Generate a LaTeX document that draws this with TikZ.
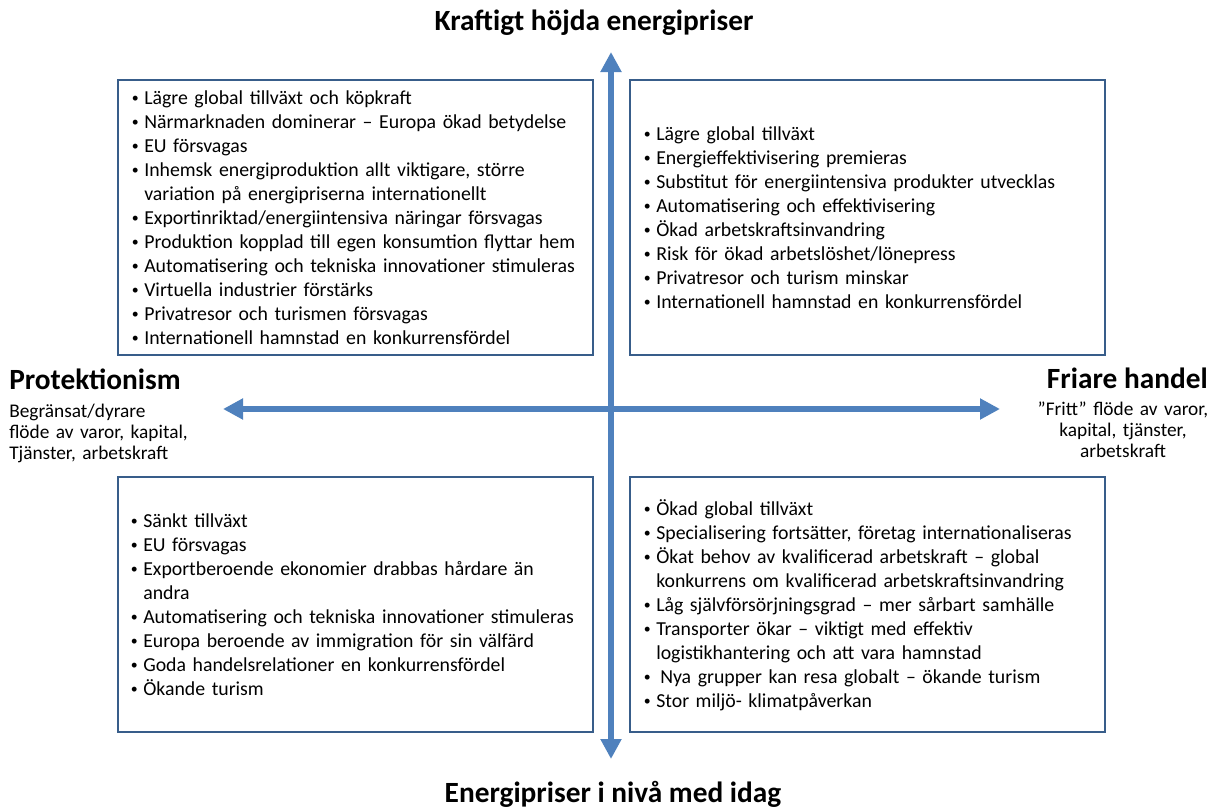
\documentclass[tikz,border=0pt]{standalone}
\usepackage{fontspec}
\usepackage{graphicx}
\setmainfont{Carlito}
\usetikzlibrary{arrows.meta}
\definecolor{axisblue}{HTML}{4F81BD}
\definecolor{boxblue}{HTML}{385D8A}
\newcommand{\bu}{\makebox[13.5pt][c]{\raisebox{0.09em}{\scalebox{0.7}{\textbullet}}}}
\newcommand{\cont}{\hspace*{13.5pt}}
\begin{document}
\begin{tikzpicture}[x=0.75pt,y=-0.75pt,
  axis/.style={draw=axisblue,line width=4.5pt,{Triangle[width=15pt,length=15pt]}-{Triangle[width=15pt,length=15pt]}},
  quad/.style={draw=boxblue,line width=2pt,inner sep=0pt,minimum width=356.25pt},
  quadtext/.style={anchor=base west,inner sep=0pt,text width=345pt,align=left,font=\fontsize{14.85}{18}\selectfont},
  titletext/.style={inner sep=0pt,font=\fontsize{22}{26}\selectfont\bfseries},
  subtext/.style={inner sep=0pt,font=\fontsize{14.5}{16.1}\selectfont}]
\useasboundingbox (0,0) rectangle (1215,807);
% axes
\coordinate (N) at (611,52);
\coordinate (S) at (611,759);
\coordinate (W) at (223,409);
\coordinate (E) at (1000,409);
\draw[axis] (S) -- (N);
\draw[axis] (W) -- (E);
% boxes
\node[quad,minimum height=206.25pt] (tl) at (355.5,217.5) {};
\node[quad,minimum height=206.25pt] (tr) at (867.5,217.5) {};
\node[quad,minimum height=191.25pt] (bl) at (355.5,604.5) {};
\node[quad,minimum height=191.25pt] (br) at (867.5,604.5) {};
% box texts
\node[quadtext] (tlt) at (126,104) {%
\bu Lägre global tillväxt och köpkraft\\
\bu Närmarknaden dominerar – Europa ökad betydelse\\
\bu EU försvagas\\
\bu Inhemsk energiproduktion allt viktigare, större\\
\cont variation på energipriserna internationellt\\
\bu Exportinriktad/energiintensiva näringar försvagas\\
\bu Produktion kopplad till egen konsumtion flyttar hem\\
\bu Automatisering och tekniska innovationer stimuleras\\
\bu Virtuella industrier förstärks\\
\bu Privatresor och turismen försvagas\\
\bu Internationell hamnstad en konkurrensfördel};
\node[quadtext] (trt) at (638,140) {%
\bu Lägre global tillväxt\\
\bu Energieffektivisering premieras\\
\bu Substitut för energiintensiva produkter utvecklas\\
\bu Automatisering och effektivisering\\
\bu Ökad arbetskraftsinvandring\\
\bu Risk för ökad arbetslöshet/lönepress\\
\bu Privatresor och turism minskar\\
\bu Internationell hamnstad en konkurrensfördel};
\node[quadtext] (blt) at (125,527) {%
\bu Sänkt tillväxt\\
\bu EU försvagas\\
\bu Exportberoende ekonomier drabbas hårdare än\\
\cont andra\\
\bu Automatisering och tekniska innovationer stimuleras\\
\bu Europa beroende av immigration för sin välfärd\\
\bu Goda handelsrelationer en konkurrensfördel\\
\bu Ökande turism};
\node[quadtext] (brt) at (638,515) {%
\bu Ökad global tillväxt\\
\bu Specialisering fortsätter, företag internationaliseras\\
\bu Ökat behov av kvalificerad arbetskraft – global\\
\cont konkurrens om kvalificerad arbetskraftsinvandring\\
\bu Låg självförsörjningsgrad – mer sårbart samhälle\\
\bu Transporter ökar – viktigt med effektiv\\
\cont logistikhantering och att vara hamnstad\\
\bu\hspace{3pt}Nya grupper kan resa globalt – ökande turism\\
\bu Stor miljö- klimatpåverkan};
% axis labels
\node[titletext,anchor=base] (ttop) at (594,30) {Kraftigt höjda energipriser};
\node[titletext,anchor=base] (tbot) at (613,802) {Energipriser i nivå med idag};
\node[titletext,anchor=base west] (tprot) at (9,389) {Protektionism};
\node[titletext,anchor=base east] (tfri) at (1208,388) {Friare handel};
\node[subtext,anchor=base west,text width=150pt,align=left] (sprot) at (9,417) {Begränsat/dyrare\\flöde av varor, kapital,\\Tjänster, arbetskraft};
\node[subtext,anchor=base,text width=150pt,align=center] (sfri) at (1123,415) {”Fritt” flöde av varor,\\kapital, tjänster,\\arbetskraft};
\end{tikzpicture}
\end{document}
